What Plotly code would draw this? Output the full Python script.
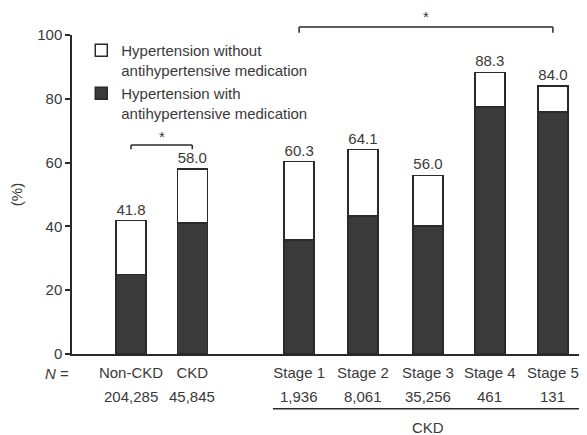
import plotly.graph_objects as go

# ---- data ----
categories = ["Non-CKD", "CKD", "Stage 1", "Stage 2", "Stage 3", "Stage 4", "Stage 5"]
n_values = ["204,285", "45,845", "1,936", "8,061", "35,256", "461", "131"]
total_pct = [41.8, 58.0, 60.3, 64.1, 56.0, 88.3, 84.0]
with_med_pct = [25.0, 41.0, 35.7, 43.3, 40.1, 77.4, 75.9]
without_med_pct = [round(t - w, 1) for t, w in zip(total_pct, with_med_pct)]
y_ticks = [0, 20, 40, 60, 80, 100]

# ---- layout positions (category slots) ----
x_pos = [0, 0.98, 2.69, 3.71, 4.75, 5.74, 6.75]

FONT = "Liberation Sans, Arial, Helvetica, sans-serif"
TXT = "#3a3a3a"
DARK = "#3a3a3a"
LINE = "#2a2a2a"
FS = 15

fig = go.Figure()
fig.add_trace(go.Bar(
    x=x_pos, y=with_med_pct, width=0.48,
    name="Hypertension with<br>antihypertensive medication",
    legendgroup="with", legendrank=2,
    marker=dict(color=DARK, line=dict(color=LINE, width=1.5)),
))
fig.add_trace(go.Bar(
    x=x_pos, y=without_med_pct, width=0.48,
    name="Hypertension without<br>antihypertensive medication",
    legendgroup="without", legendrank=1,
    marker=dict(color="white", line=dict(color=LINE, width=1.5)),
    text=[f"{t:.1f}" for t in total_pct], textposition="outside",
    textfont=dict(family=FONT, size=FS, color=TXT), cliponaxis=False,
))

x_range = [-0.944, 7.296]

shapes = []
# significance brackets
shapes += [
    dict(type="line", xref="x", yref="y", x0=x_pos[0], x1=x_pos[1], y0=65.5, y1=65.5, line=dict(color=LINE, width=1.5)),
    dict(type="line", xref="x", yref="y", x0=x_pos[0], x1=x_pos[0], y0=65.5, y1=64.2, line=dict(color=LINE, width=1.5)),
    dict(type="line", xref="x", yref="y", x0=x_pos[1], x1=x_pos[1], y0=65.5, y1=64.2, line=dict(color=LINE, width=1.5)),
    dict(type="line", xref="x", yref="paper", x0=x_pos[2], x1=x_pos[6], y0=1.025, y1=1.025, line=dict(color=LINE, width=1.5)),
    dict(type="line", xref="x", yref="paper", x0=x_pos[2], x1=x_pos[2], y0=1.025, y1=1.007, line=dict(color=LINE, width=1.5)),
    dict(type="line", xref="x", yref="paper", x0=x_pos[6], x1=x_pos[6], y0=1.025, y1=1.007, line=dict(color=LINE, width=1.5)),
    # CKD group line
    dict(type="line", xref="x", yref="paper", x0=x_pos[2] - 0.42, x1=x_range[1], y0=-0.172, y1=-0.172, line=dict(color=LINE, width=1.5)),
]

def ann(text, x, y, xref="x", yref="paper"):
    return dict(text=text, xref=xref, yref=yref, x=x, y=y, showarrow=False,
                xanchor="center", yanchor="middle",
                font=dict(family=FONT, size=FS, color=TXT))

annotations = [
    ann("*", (x_pos[0] + x_pos[1]) / 2, 68.3, yref="y"),
    ann("*", (x_pos[2] + x_pos[6]) / 2, 1.058),
    ann("<i>N</i> =", (57 - 72) / 515, (354 - 373) / 319, xref="paper"),
    ann("CKD", x_pos[4], (354 - 427) / 319),
]
for xp, nv in zip(x_pos, n_values):
    annotations.append(ann(nv, xp, (354 - 396) / 319))

fig.update_layout(
    width=579, height=427,
    margin=dict(l=64, r=0, t=27, b=81),
    barmode="stack",
    plot_bgcolor="white", paper_bgcolor="white",
    font=dict(family=FONT, size=FS, color=TXT),
    showlegend=True,
    legend=dict(x=0.018, y=1.003, xanchor="left", yanchor="top", traceorder="grouped",
                valign="top", bgcolor="rgba(0,0,0,0)", font=dict(family=FONT, size=FS, color=TXT),
                tracegroupgap=1),
    xaxis=dict(range=x_range, tickvals=x_pos, ticktext=categories, showline=True,
               linecolor=LINE, linewidth=1.5, ticks="", showgrid=False, zeroline=False,
               tickfont=dict(family=FONT, size=FS, color=TXT), ticklabelstandoff=4),
    yaxis=dict(range=[0, 100], tickvals=y_ticks, showline=True, linecolor=LINE, linewidth=1.5,
               ticks="outside", ticklen=5, tickwidth=1.5, tickcolor=LINE, showgrid=False,
               zeroline=False, tickfont=dict(family=FONT, size=FS, color=TXT),
               title=dict(text="(%)", standoff=14, font=dict(family=FONT, size=FS, color=TXT))),
    shapes=shapes, annotations=annotations,
)

fig.write_html("out.html")
